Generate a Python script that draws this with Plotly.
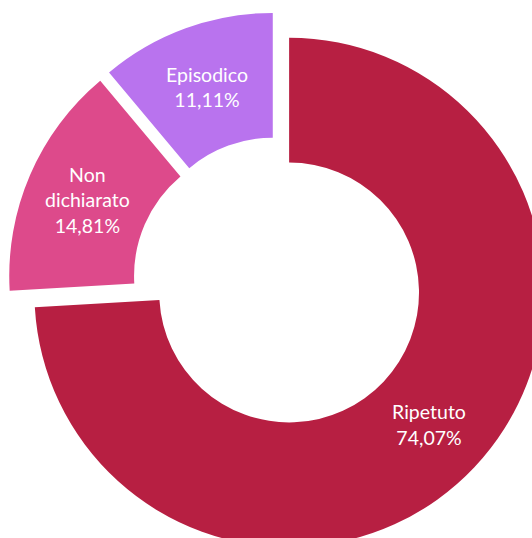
import plotly.graph_objects as go

labels = ["Ripetuto", "Non<br>dichiarato", "Episodico"]
counts = [20, 4, 3]
colors = ["#B71F42", "#DD4A8B", "#B973EE"]
pulls = [0.06, 0.06, 0.06]

fig = go.Figure(go.Pie(
    labels=labels,
    values=counts,
    hole=0.51,
    sort=False,
    direction="clockwise",
    rotation=0,
    pull=pulls,
    marker=dict(colors=colors, line=dict(width=0)),
    texttemplate="%{label}<br>%{percent:.2%}",
    textposition="inside",
    insidetextorientation="horizontal",
    textfont=dict(family="Lato", size=19.5, color="white"),
    hoverinfo="skip",
    showlegend=False,
))

fig.update_layout(
    width=560, height=560,
    margin=dict(l=8, r=12, t=12, b=8),
    paper_bgcolor="white",
    plot_bgcolor="white",
    separators=",.",
    showlegend=False,
)

fig.write_html(
    "out.html",
    config={"displayModeBar": False},
    post_script="document.body.style.margin='0';document.body.style.overflow='hidden';document.documentElement.style.overflow='hidden';",
)
